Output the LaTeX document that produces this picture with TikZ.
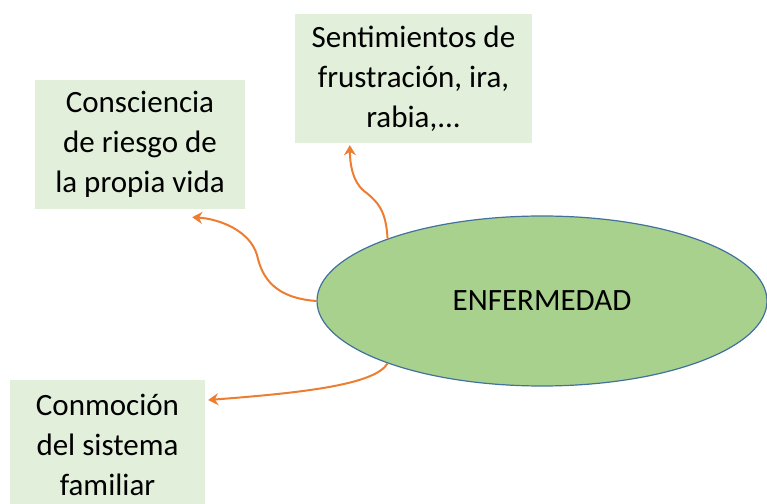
\documentclass[tikz,border=0pt]{standalone}
\usepackage{fontspec}
\setmainfont{Carlito}
\usetikzlibrary{shapes.geometric,arrows.meta,calc}

\definecolor{cajaverde}{HTML}{E2EFDA}
\definecolor{elipseverde}{HTML}{A9D18E}
\definecolor{bordeazul}{HTML}{41719C}
\definecolor{naranja}{HTML}{ED7D31}

\tikzset{
    caja/.style={fill=cajaverde, inner sep=0pt, align=center,
        font=\fontsize{31}{40}\selectfont},
    flecha/.style={-{Stealth[length=10pt,width=12pt]}, color=naranja, line width=2pt}
}

\begin{document}
\begin{tikzpicture}[x=1pt,y=1pt]
            \useasboundingbox (0,0) rectangle (767,503);
            \clip (0,0) rectangle (767,503);

            \node[ellipse, draw=bordeazul, line width=1.2pt, fill=elipseverde,
                minimum width=450, minimum height=170, inner sep=0pt,
                font=\fontsize{31}{40}\selectfont] (enf) at (542,202) {ENFERMEDAD};

            \node[caja, minimum width=237, minimum height=129] (sent) at (413.5,424.5)
                {Sentimientos de\\frustración, ira,\\rabia,...};
            \node[caja, minimum width=210, minimum height=129] (conc) at (140,358.5)
                {Consciencia\\de riesgo de\\la propia vida};
            \node[caja, minimum width=195, minimum height=129] (conm) at (107.5,58)
                {Conmoción\\del sistema\\familiar};

            \coordinate (pSent) at ($(sent.south west)+(55,-2)$);
            \coordinate (pConc) at ($(conc.south east)+(-53,-8)$);
            \coordinate (pConm) at ($(conm.east)+(3,45)$);

            \draw[flecha] (enf.158) .. controls (386,290) and (380,300) .. (364,312)
                .. controls (352,322) and (350,340) .. (pSent);
            \draw[flecha] (enf.west) .. controls (275,205) and (262,225) .. (257,248)
                .. controls (250,272) and (220,284) .. (pConc);
            \draw[flecha] (enf.202) .. controls (375,118) and (300,110) .. (pConm);
        \end{tikzpicture}
\end{document}
